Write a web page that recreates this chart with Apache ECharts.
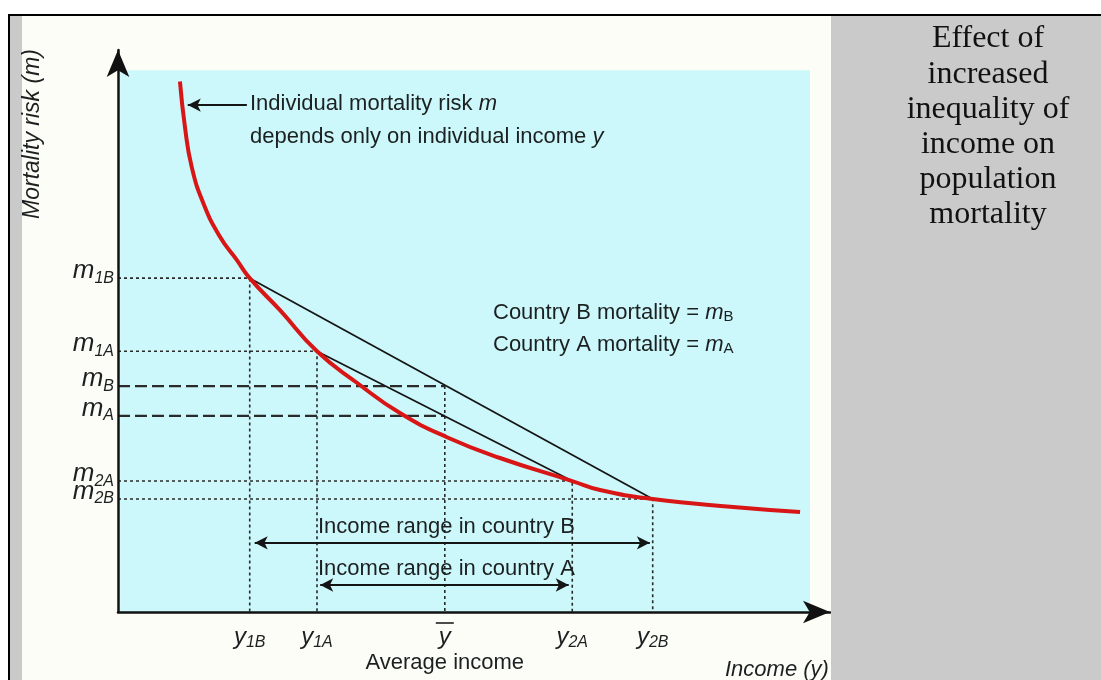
<!DOCTYPE html>
<html>
<head>
<meta charset="utf-8">
<script src="https://cdn.jsdelivr.net/npm/echarts@6/dist/echarts.min.js"></script>
<style>
html,body{margin:0;padding:0;background:#fff;}
#c{width:1101px;height:680px;}
</style>
</head>
<body>
<div id="c"></div>
<script>
// ---------- data (arbitrary units, axes run 0..100) ----------
const incomeKeys = ['1B', '1A', 'bar', '2A', '2B'];
const incomeVals = [18.5, 27.95, 45.9, 63.8, 75.1];
const mortKeys = ['1B', '1A', 'B', 'A', '2A', '2B'];
const mortVals = [59.4, 46.4, 40.2, 34.9, 23.3, 20.1];
// individual mortality-risk curve m(y)
const curveX = [8.7, 9.4, 10.35, 12.0, 14.3, 16.7, 18.5, 22.75, 27.95, 33.6, 39.6, 46.2, 53.65, 63.8, 67.7, 75.1, 86.4, 95.8];
const curveY = [94.4, 86.35, 79.2, 72.7, 66.8, 62.6, 59.4, 53.7, 46.4, 40.75, 35.4, 31.1, 27.4, 23.3, 21.7, 20.1, 18.7, 17.8];
// income range arrows: [from x, to x, y]
const rangeB = [19.2, 74.7, 12.3];
const rangeA = [28.4, 63.3, 4.8];
// pointer arrow to the curve: [from x, to x, y]
const pointer = [18.1, 9.8, 90.2];
// shaded plot region: [x0, x1, y0, y1]
const shade = [0.3, 97.2, 0, 96.4];
const axisRange = [0, 100];

// ---------- helpers ----------
const SANS = '"Liberation Sans", Arial, Helvetica, sans-serif';
const SERIF = '"Liberation Serif", "Times New Roman", serif';
const INK = '#1c2020';
const ix = k => incomeVals[incomeKeys.indexOf(k)];
const my = k => mortVals[mortKeys.indexOf(k)];
const nearest = (arr, v) => { let b = 0; arr.forEach((a, i) => { if (Math.abs(a - v) < Math.abs(arr[b] - v)) b = i; }); return b; };

const dotted = { color: '#2a2a2a', width: 1.6, type: [3, 3] };
const dashed = { color: '#2a2a2a', width: 2.3, type: [12, 5] };

const series = [];
// cyan plot background
series.push({
  type: 'line', data: [], silent: true, z: 1,
  markArea: { silent: true, itemStyle: { color: '#ccf8fb' },
    data: [[{ coord: [shade[0], shade[2]] }, { coord: [shade[1], shade[3]] }]] }
});
// dotted reference corners
['1B', '1A', '2A', '2B'].forEach(k => {
  series.push({ type: 'line', silent: true, z: 2, symbol: 'none',
    data: [[0, my(k)], [ix(k), my(k)], [ix(k), 0]], lineStyle: dotted });
});
// average-income references
series.push({ type: 'line', silent: true, z: 2, symbol: 'none', data: [[0, my('B')], [ix('bar'), my('B')]], lineStyle: dashed });
series.push({ type: 'line', silent: true, z: 2, symbol: 'none', data: [[0, my('A')], [ix('bar'), my('A')]], lineStyle: dashed });
series.push({ type: 'line', silent: true, z: 2, symbol: 'none', data: [[ix('bar'), my('B')], [ix('bar'), 0]], lineStyle: dotted });
// chords
series.push({ type: 'line', silent: true, z: 3, symbol: 'none', data: [[ix('1B'), my('1B')], [ix('2B'), my('2B')]], lineStyle: { color: '#151515', width: 1.8 } });
series.push({ type: 'line', silent: true, z: 3, symbol: 'none', data: [[ix('1A'), my('1A')], [ix('2A'), my('2A')]], lineStyle: { color: '#151515', width: 1.8 } });
// curve
series.push({ type: 'line', silent: true, z: 4, symbol: 'none', smooth: 0.5,
  data: curveX.map((x, i) => [x, curveY[i]]), lineStyle: { color: '#d81616', width: 4 } });
// arrows
series.push({
  type: 'line', data: [], silent: true, z: 5,
  markLine: {
    silent: true, symbol: ['arrow', 'arrow'], symbolSize: [10, 13], label: { show: false },
    lineStyle: { color: '#151515', width: 1.8, type: 'solid' },
    data: [
      [{ coord: [rangeB[0], rangeB[2]] }, { coord: [rangeB[1], rangeB[2]] }],
      [{ coord: [rangeA[0], rangeA[2]] }, { coord: [rangeA[1], rangeA[2]] }],
      [{ coord: [pointer[0], pointer[2]], symbol: 'none' }, { coord: [pointer[1], pointer[2]] }]
    ]
  }
});
// mortality tick labels on the y axis
series.push({
  type: 'scatter', silent: true, z: 10, symbolSize: 0,
  data: mortVals.map(v => [0, v]),
  label: {
    show: true, position: 'left', distance: 4, color: INK, fontFamily: SANS, opacity: 1,
    formatter: p => '{m|m}{s|' + mortKeys[p.dataIndex] + '}',
    rich: {
      m: { fontSize: 26, fontStyle: 'italic', fontFamily: SANS, color: INK, padding: [0, 0, 14, 0] },
      s: { fontSize: 16, fontStyle: 'italic', fontFamily: SANS, color: INK }
    }
  },
  emphasis: { disabled: true },
  labelLayout: { hideOverlap: false }
});

const txt = (x, y, text, font, extra, rot) => ({
  type: 'text', x: x, y: y, z: 20, rotation: rot || 0,
  style: Object.assign({ text: text, font: font, fill: INK, align: 'left', verticalAlign: 'middle',
    textAlign: 'left', textVerticalAlign: 'middle' }, extra || {})
});
const richSans = {
  t: { fontSize: 22, fontFamily: SANS },
  i: { fontSize: 22, fontFamily: SANS, fontStyle: 'italic' },
  s: { fontSize: 15, fontFamily: SANS, padding: [8, 0, 0, 0] }
};

const panelLines = ['Effect of', 'increased', 'inequality of', 'income on', 'population', 'mortality'];

const graphic = [
  { type: 'rect', z: -100, shape: { x: 22, y: 16, width: 809, height: 664 }, style: { fill: '#fdfdf8' } },
  { type: 'rect', z: -100, shape: { x: 10, y: 16, width: 12, height: 664 }, style: { fill: '#cacaca' } },
  { type: 'rect', z: -100, shape: { x: 8, y: 14, width: 1093, height: 2 }, style: { fill: '#000' } },
  { type: 'rect', z: -100, shape: { x: 8, y: 14, width: 2, height: 666 }, style: { fill: '#000' } },
  txt(33, 134, 'Mortality risk (m)', 'italic 23px ' + SANS, { align: 'center', textAlign: 'center' }, Math.PI / 2),
  { type: 'text', x: 250, y: 104, z: 20, style: { text: '{t|Individual mortality risk }{i|m}', rich: richSans, fill: INK, verticalAlign: 'middle', textVerticalAlign: 'middle' } },
  { type: 'text', x: 250, y: 137, z: 20, style: { text: '{t|depends only on individual income }{i|y}', rich: richSans, fill: INK, verticalAlign: 'middle', textVerticalAlign: 'middle' } },
  { type: 'text', x: 493, y: 313, z: 20, style: { text: '{t|Country B mortality = }{i|m}{s|B}', rich: richSans, fill: INK, verticalAlign: 'middle', textVerticalAlign: 'middle' } },
  { type: 'text', x: 493, y: 345, z: 20, style: { text: '{t|Country A mortality = }{i|m}{s|A}', rich: richSans, fill: INK, verticalAlign: 'middle', textVerticalAlign: 'middle' } },
  txt(318, 527, 'Income range in country B', '22px ' + SANS),
  txt(318, 569, 'Income range in country A', '22px ' + SANS),
  txt(725, 670, 'Income (y)', 'italic 22px ' + SANS),
  { type: 'rect', z: 50, shape: { x: 831, y: 16, width: 270, height: 664 }, style: { fill: '#cacaca' } }
];
panelLines.forEach((l, i) => {
  graphic.push({ type: 'text', x: 988, y: 39 + i * 35.2, z: 60,
    style: { text: l, font: '32px ' + SERIF, fill: '#111', align: 'center', verticalAlign: 'middle', textAlign: 'center', textVerticalAlign: 'middle' } });
});

const option = {
  animation: false,
  backgroundColor: '#ffffff',
  grid: { left: 118, right: 271, top: 50, bottom: 68, containLabel: false, outerBoundsMode: 'none' },
  xAxis: {
    type: 'value', min: axisRange[0], max: axisRange[1], z: 10,
    axisLine: { show: true, onZero: false, lineStyle: { color: '#111', width: 2.5 }, symbol: ['none', 'arrow'], symbolSize: [17, 27], symbolOffset: [0, 0] },
    axisTick: { show: false }, splitLine: { show: false },
    axisLabel: {
      customValues: incomeVals, margin: 13, color: INK, fontFamily: SANS, hideOverlap: false,
      formatter: v => {
        const k = incomeKeys[nearest(incomeVals, v)];
        if (k === 'bar') return '{yb|y}\n{t|Average income}';
        return '{y|y}{s|' + k + '}';
      },
      rich: {
        y: { fontSize: 24, fontStyle: 'italic', fontFamily: SANS, padding: [0, 0, 11, 0] },
        yb: { fontSize: 24, fontStyle: 'italic', fontFamily: SANS },
        s: { fontSize: 16, fontStyle: 'italic', fontFamily: SANS },
        t: { fontSize: 22, fontFamily: SANS, lineHeight: 28 }
      }
    }
  },
  yAxis: {
    type: 'value', min: axisRange[0], max: axisRange[1], z: 10,
    axisLine: { show: true, onZero: false, lineStyle: { color: '#111', width: 2.5 }, symbol: ['none', 'arrow'], symbolSize: [17, 27], symbolOffset: [0, 0] },
    axisTick: { show: false }, splitLine: { show: false },
    axisLabel: { show: false }
  },
  graphic: graphic,
  series: series
};

const chart = echarts.init(document.getElementById('c'));
chart.setOption(option);
// overline for y-bar label
const xb = chart.convertToPixel({ xAxisIndex: 0 }, ix('bar'));
chart.setOption({ graphic: graphic.concat([{ type: 'line', z: 20, shape: { x1: xb - 9, y1: 623, x2: xb + 9, y2: 623 }, style: { stroke: INK, lineWidth: 1.6 } }]) });
</script>
</body>
</html>
